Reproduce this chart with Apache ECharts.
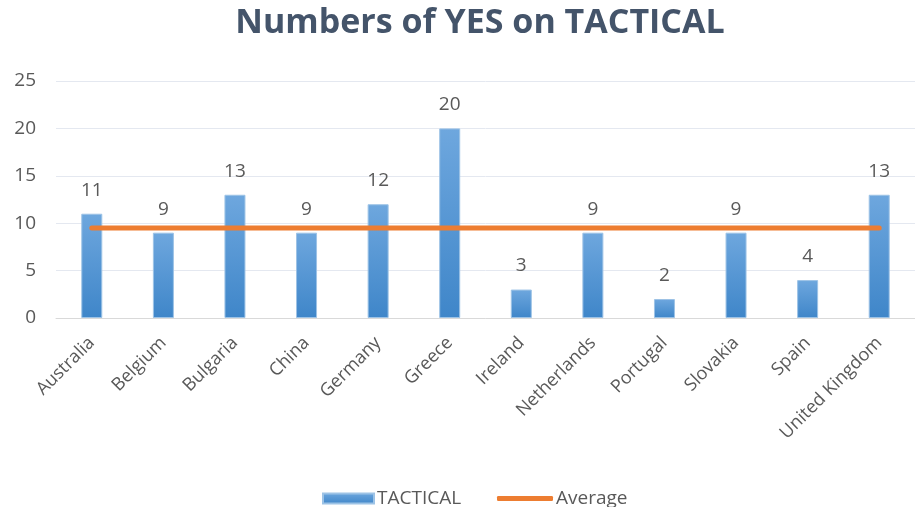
<!DOCTYPE html>
<html><head><meta charset="utf-8">
<script src="https://cdn.jsdelivr.net/npm/echarts@6/dist/echarts.min.js"></script>
<style>html,body{margin:0;padding:0;background:#fff}#c{width:915px;height:507px}</style>
</head><body><div id="c"></div>
<script>
var categories = ["Australia","Belgium","Bulgaria","China","Germany","Greece","Ireland","Netherlands","Portugal","Slovakia","Spain","United Kingdom"];
var tactical = [11,9,13,9,12,20,3,9,2,9,4,13];
var average = [9.5,9.5,9.5,9.5,9.5,9.5,9.5,9.5,9.5,9.5,9.5,9.5];
var yTicks = [0,5,10,15,20,25];

var chart = echarts.init(document.getElementById('c'));
var font = '"Open Sans", "Noto Sans", sans-serif';
var legendText = {fontFamily: font, fontSize: 19, color: '#595959', padding: [0,0,0,-2]};
chart.setOption({
  animation: false,
  title: {
    text: 'Numbers of YES on TACTICAL',
    left: 475, top: 1, textAlign: 'center',
    textStyle: {fontFamily: font, fontSize: 34, fontWeight: 'bold', color: '#44546A'}
  },
  legend: [
    {
      top: 484, left: 317, itemWidth: 51, itemHeight: 10,
      textStyle: legendText,
      data: [{name: 'TACTICAL', icon: 'rect'}]
    },
    {
      top: 484, left: 492, itemWidth: 56, itemHeight: 5,
      textStyle: legendText,
      data: [{name: 'Average', icon: 'roundRect'}]
    }
  ],
  grid: {left: 56, right: -11, top: 81, bottom: 189, containLabel: false},
  xAxis: {
    type: 'category', data: categories,
    axisLine: {show: true, lineStyle: {color: '#D9D9D9'}},
    axisTick: {show: false},
    axisLabel: {rotate: 45, interval: 0, fontFamily: font, fontSize: 18, color: '#595959', margin: 22}
  },
  yAxis: {
    type: 'value', min: yTicks[0], max: yTicks[yTicks.length-1], interval: 5,
    axisLine: {show: false}, axisTick: {show: false},
    splitLine: {lineStyle: {color: '#E4E8F0'}},
    axisLabel: {fontFamily: font, fontSize: 19, color: '#595959', margin: 20}
  },
  series: [
    {
      name: 'TACTICAL', type: 'bar', data: tactical, barWidth: 21,
      itemStyle: {
        color: new echarts.graphic.LinearGradient(0,0,0,1,[{offset:0,color:'#6EA7DE'},{offset:1,color:'#3F86C9'}]),
        borderColor: '#9DC3E6', borderWidth: 1
      },
      label: {show: true, position: 'top', distance: 14, fontFamily: font, fontSize: 19, color: '#595959'}
    },
    {
      name: 'Average', type: 'line', data: average, symbol: 'none',
      lineStyle: {color: '#ED7D31', width: 5, cap: 'round'},
      itemStyle: {color: '#ED7D31'}
    }
  ]
});
</script></body></html>
